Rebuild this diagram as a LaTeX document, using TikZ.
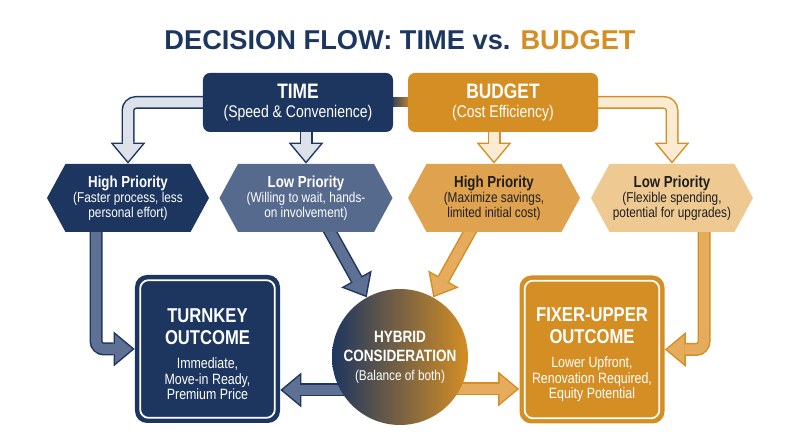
\documentclass[tikz,border=0pt]{standalone}
\usepackage{fontspec}
\setmainfont{Liberation Sans}[FakeStretch=0.83]
\newfontfamily\titlefont{Liberation Sans}
\usetikzlibrary{shapes,backgrounds,calc,arrows.meta}

\definecolor{tnavy}{HTML}{1D3660}
\definecolor{tslate}{HTML}{566A8E}
\definecolor{tpale}{HTML}{DCE1EA}
\definecolor{tarrow}{HTML}{5E7093}
\definecolor{bgold}{HTML}{D48E24}
\definecolor{bmid}{HTML}{DFA24E}
\definecolor{blight}{HTML}{EECA92}
\definecolor{bpale}{HTML}{FBEBD3}
\definecolor{barrow}{HTML}{E6AC5E}
\definecolor{hexink}{HTML}{1E1E1E}

\tikzset{
  topbox/.style={rectangle, rounded corners=1.4mm, minimum width=38mm, minimum height=11.8mm,
    text=white, align=center, font=\fontsize{9.6}{11}\selectfont},
  prio/.style={signal, signal to=west and east, signal pointer angle=123, minimum height=13.6mm,
    inner sep=1pt, align=center, font=\fontsize{8.1}{8.7}\selectfont},
  outcome/.style={rectangle, rounded corners=2.4mm, minimum width=29mm, minimum height=29.6mm,
    text=white, align=center, font=\fontsize{8.5}{8.8}\selectfont},
  inline/.style={draw=white, line width=0.35mm, rounded corners=1.7mm},
}

\newcommand\headA[1]{{\fontsize{11.9}{12}\selectfont\bfseries #1}}
\newcommand\headB[1]{{\fontsize{9.1}{9}\selectfont\bfseries #1}}
\newcommand\headC[1]{{\fontsize{11.4}{12}\selectfont\bfseries #1}}
\newcommand\headD[1]{{\fontsize{9.3}{10}\selectfont\bfseries #1}}

% block arrow: border colour, fill colour, path
\newcommand\fatarrow[3]{%
  \draw[#1, line width=2.6mm, rounded corners=1.6mm,
    -{Triangle[width=7mm,length=4.2mm,line width=0pt]}] #3;
  \draw[#2, line width=2.0mm, rounded corners=1.6mm, shorten >=0.47mm,
    -{Triangle[width=5.72mm,length=3.43mm,line width=0pt]}] #3;
}

\begin{document}
\begin{tikzpicture}[x=0.2mm,y=-0.2mm]
\useasboundingbox (0,0) rectangle (800,447);

\node (title) at (400,40) {\titlefont\bfseries\fontsize{15.5}{18}\selectfont
  \textcolor{tnavy}{DECISION FLOW: TIME vs.} \textcolor{bgold}{BUDGET}};

% criteria
\node[topbox, fill=tnavy] (time) at (298,102.5) {\headA{TIME}\\(Speed \& Convenience)};
\node[topbox, fill=bgold] (budget) at (503,102.5) {\headA{BUDGET}\\(Cost Efficiency)};

% priorities
\node[prio, fill=tnavy, text=white, minimum width=32.4mm] (thigh) at (128,198)
  {\headB{High Priority}\\(Faster process, less\\personal effort)};
\node[prio, fill=tslate, text=white, minimum width=34.6mm] (tlow) at (306,198)
  {\headB{Low Priority}\\(Willing to wait, hands-\\on involvement)};
\node[prio, fill=bmid, text=hexink, minimum width=34.4mm] (bhigh) at (494,198)
  {\headB{High Priority}\\(Maximize savings,\\limited initial cost)};
\node[prio, fill=blight, text=hexink, minimum width=32.4mm] (blow) at (672,198)
  {\headB{Low Priority}\\(Flexible spending,\\potential for upgrades)};

% outcomes
\node[outcome, fill=tnavy] (turnkey) at (207.5,349)
  {\rule{0pt}{14pt}\headC{TURNKEY}\\[3.5pt]\headC{OUTCOME}\\[5pt]Immediate,\\Move-in Ready,\\Premium Price};
\node[outcome, fill=bgold] (fixer) at (592,349.5)
  {\rule{0pt}{14pt}\headC{FIXER-UPPER}\\[3.5pt]\headC{OUTCOME}\\[5pt]Lower Upfront,\\Renovation Required,\\Equity Potential};
\draw[inline] ($(turnkey.south west)+(5.5,-5.5)$) rectangle ($(turnkey.north east)+(-5.5,5.5)$);
\draw[inline] ($(fixer.south west)+(5.5,-5.5)$) rectangle ($(fixer.north east)+(-5.5,5.5)$);

\node[circle, minimum size=27.2mm, inner sep=0pt, left color=tnavy, right color=bgold,
  text=white, align=center, font=\fontsize{8.1}{10}\selectfont] (hybrid) at (400,357)
  {\headD{HYBRID}\\[1pt]\headD{CONSIDERATION}\\[0.5pt](Balance of both)};

\coordinate (hyl) at ($(hybrid.center)+(-30,33)$);
\coordinate (hyr) at ($(hybrid.center)+(30,32)$);

\begin{scope}[on background layer]
  \shade[left color=tnavy, right color=bgold] ($(time.east)+(-4,-4.5)$) rectangle ($(budget.west)+(4,4.5)$);
  \fatarrow{tnavy}{tpale}{($(time.west)+(6,0)$) -| (thigh.north)}
  \fatarrow{tnavy}{tpale}{(tlow.north |- time.center) -- (tlow.north)}
  \fatarrow{bgold}{bpale}{(bhigh.north |- budget.center) -- (bhigh.north)}
  \fatarrow{bgold}{bpale}{($(budget.east)+(-6,0)$) -| (blow.north)}
  \fatarrow{tnavy}{tarrow}{($(thigh.south)+(-32,-6)$) |- (turnkey.west)}
  \fatarrow{bgold}{barrow}{($(blow.south)+(32,-6)$) |- (fixer.east)}
  \fatarrow{tnavy}{tarrow}{($(tlow.south)+(20,-8)$) -- (hybrid)}
  \fatarrow{bgold}{barrow}{($(bhigh.south)+(-20,-8)$) -- (hybrid)}
  \fatarrow{tnavy}{tarrow}{(hyl) -- (hyl -| turnkey.east)}
  \fatarrow{bgold}{barrow}{(hyr) -- (hyr -| fixer.west)}
\end{scope}
\end{tikzpicture}
\end{document}
